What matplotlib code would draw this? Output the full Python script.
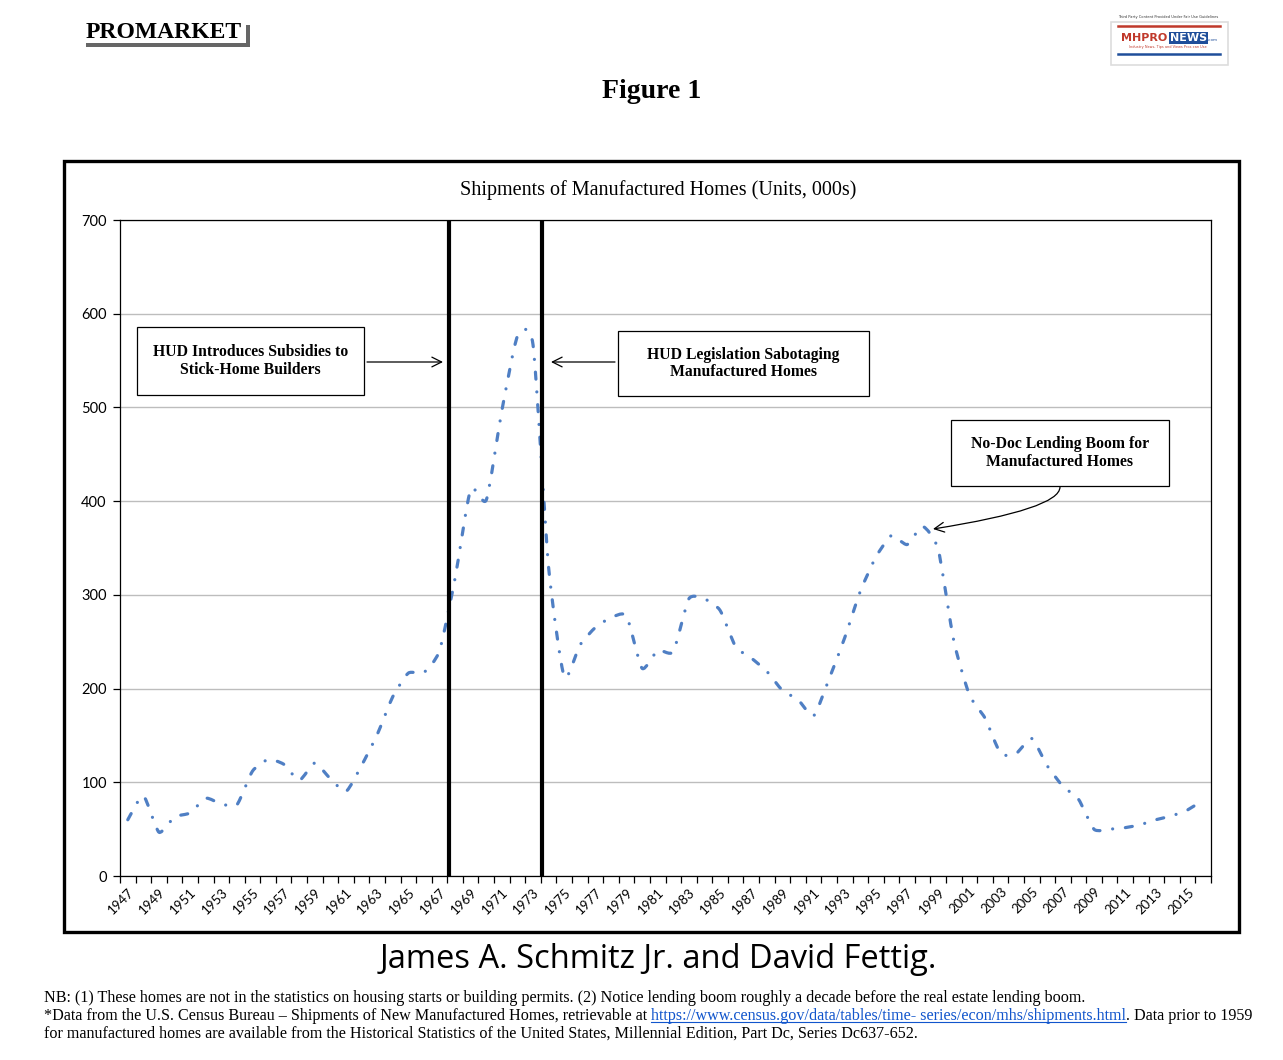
import matplotlib
matplotlib.use("Agg")
import matplotlib.pyplot as plt
import numpy as np
from matplotlib.patches import Rectangle, PathPatch
from matplotlib.path import Path
from matplotlib.lines import Line2D

# ---------------- data ----------------
years = list(range(1947, 2017))
shipments = [60.0, 85.5, 46.7, 63.1, 67.3, 83.0, 76.9, 76.0, 111.9, 124.3,
             119.3, 102.1, 120.5, 103.7, 90.2, 118.0, 150.8, 191.3, 216.5, 217.3,
             240.4, 317.9, 412.7, 401.2, 496.6, 575.9, 566.9, 329.3, 212.7, 246.1,
             265.2, 275.7, 277.4, 221.6, 240.9, 239.5, 295.8, 295.7, 283.5, 244.7,
             232.6, 218.4, 198.1, 188.2, 170.9, 210.5, 254.3, 303.9, 340.3, 363.3,
             353.7, 373.1, 348.1, 250.6, 193.2, 168.5, 130.8, 130.8, 146.7, 117.4,
             95.7, 81.9, 49.8, 50.0, 51.6, 54.9, 60.2, 64.3, 70.5, 81.1]
yticks = [0, 100, 200, 300, 400, 500, 600, 700]
xtick_labels = [str(y) for y in range(1947, 2016, 2)]
event_years = [1968, 1974]   # vertical lines drawn at the start of these categories

title = "Shipments of Manufactured Homes (Units, 000s)"
ann1 = "HUD Introduces Subsidies to\nStick-Home Builders"
ann2 = "HUD Legislation Sabotaging\nManufactured Homes"
ann3 = "No-Doc Lending Boom for\nManufactured Homes"

W, H = 1283, 1060
SERIF = ["Liberation Serif", "DejaVu Serif"]
SANS = ["Lato", "DejaVu Sans"]
fig = plt.figure(figsize=(W / 100, H / 100), dpi=100)

def fx(x): return x / W
def fy(y): return 1 - y / H

# outer frame
fig.patches.append(Rectangle((fx(64), fy(932)), fx(1239) - fx(64), fy(161) - fy(932),
                             transform=fig.transFigure, fill=False, lw=2.4,
                             edgecolor="black", zorder=0))

ax = fig.add_axes([fx(120), fy(876), fx(1211) - fx(120), fy(220) - fy(876)])
n = len(years)
xs = np.arange(n, dtype=float)
ys = np.array(shipments, dtype=float)

# smoothed path (Excel-style smooth line)
k = 0.1
verts = [(xs[0], ys[0])]
codes = [Path.MOVETO]
for i in range(n - 1):
    p0 = np.array([xs[max(i - 1, 0)], ys[max(i - 1, 0)]])
    p1 = np.array([xs[i], ys[i]])
    p2 = np.array([xs[i + 1], ys[i + 1]])
    p3 = np.array([xs[min(i + 2, n - 1)], ys[min(i + 2, n - 1)]])
    c1 = p1 + (p2 - p0) * k
    c2 = p2 - (p3 - p1) * k
    verts += [tuple(c1), tuple(c2), tuple(p2)]
    codes += [Path.CURVE4] * 3
patch = PathPatch(Path(verts, codes), fill=False, edgecolor="#4F7FC4", lw=2.3,
                  linestyle=(0, (2.2, 4.0, 0.01, 4.0)), capstyle="round",
                  joinstyle="round", zorder=3)
ax.add_patch(patch)

ax.set_xlim(-0.5, n - 0.5)
ax.set_ylim(0, 700)
ax.set_yticks(yticks)
ax.set_yticklabels([str(v) for v in yticks], fontfamily=SANS, fontsize=10.5)
ax.grid(axis="y", color="#BDBDBD", lw=1.0, zorder=0)
ax.set_axisbelow(True)
ax.set_xticks(np.arange(-0.5, n, 1.0))
ax.set_xticklabels([])
ax.set_xticks(np.arange(0, n, 2), minor=True)
ax.set_xticklabels(xtick_labels, minor=True, rotation=45, ha="right",
                   rotation_mode="anchor", fontfamily=SANS, fontsize=9.5)
ax.tick_params(axis="x", which="major", direction="out", length=5, width=0.9)
ax.tick_params(axis="x", which="minor", length=0, pad=7)
ax.tick_params(axis="y", direction="out", length=5, width=0.9, pad=4.5)
for s in ax.spines.values():
    s.set_linewidth(0.9)

for ev in event_years:
    ax.axvline(years.index(ev) - 0.42, color="black", lw=3.0, zorder=4)

# annotation boxes (pixel layout -> data coords)
def dx(px): return (px - 120) / ((1211 - 120) / n) - 0.5
def dy(py): return (876 - py) / 656 * 700

def box(x0, y0, x1, y1, txt):
    ax.add_patch(Rectangle((dx(x0), dy(y1)), dx(x1) - dx(x0), dy(y0) - dy(y1),
                           fill=True, facecolor="white", edgecolor="black", lw=0.9,
                           zorder=5, clip_on=False))
    ax.text((dx(x0) + dx(x1)) / 2, (dy(y0) + dy(y1)) / 2, txt, ha="center",
            va="center", fontfamily=SERIF, fontweight="bold", fontsize=11.3,
            linespacing=1.15, zorder=6)

box(137, 327, 364, 395, ann1)
box(618, 331, 869, 396, ann2)
box(951, 420, 1169, 486, ann3)

aprops = dict(arrowstyle="->,head_length=0.5,head_width=0.25", color="black", lw=0.9,
              mutation_scale=14, shrinkA=0, shrinkB=0)
ax.annotate("", xy=(dx(443), dy(362)), xytext=(dx(367), dy(362)), arrowprops=aprops, zorder=6)
ax.annotate("", xy=(dx(551), dy(362)), xytext=(dx(615), dy(362)), arrowprops=aprops, zorder=6)
ax.annotate("", xy=(dx(933), dy(529)), xytext=(dx(1060), dy(487)),
            arrowprops=dict(aprops, connectionstyle="angle3,angleA=-90,angleB=9"), zorder=6)

# chart title
fig.text(fx(658), fy(190), title, ha="center", va="center", fontfamily=SERIF, fontsize=14.5)

# header
fig.text(fx(652), fy(92), "Figure 1", ha="center", va="center", fontfamily=SERIF,
         fontweight="bold", fontsize=20)
fig.patches.append(Rectangle((fx(86), fy(47)), fx(250) - fx(86), fy(25) - fy(47),
                             transform=fig.transFigure, facecolor="#666666", lw=0))
fig.patches.append(Rectangle((fx(80), fy(43)), fx(246) - fx(80), fy(19) - fy(43),
                             transform=fig.transFigure, facecolor="white", lw=0))
fig.text(fx(164), fy(32), "PROMARKET", ha="center", va="center", fontfamily=SERIF,
         fontweight="bold", fontsize=17)

# MHProNews badge
fig.text(fx(1168), fy(17), "Third Party Content Provided Under Fair Use Guidelines",
         ha="center", va="center", fontfamily="DejaVu Sans", fontsize=2.6, color="#333333")
fig.patches.append(Rectangle((fx(1111), fy(65)), fx(1228) - fx(1111), fy(22) - fy(65),
                             transform=fig.transFigure, facecolor="white",
                             edgecolor="#DDDDDD", lw=1.2))
fig.lines.append(Line2D([fx(1118), fx(1220)], [fy(26), fy(26)], transform=fig.transFigure,
                        color="#C0392B", lw=1.8))
fig.text(fx(1121), fy(38), "MHPRO", ha="left", va="center", fontfamily="DejaVu Sans",
         fontweight="bold", fontsize=8, color="#C0392B")
fig.text(fx(1170), fy(38), "NEWS", ha="left", va="center", fontfamily="DejaVu Sans",
         fontweight="bold", fontsize=8, color="white",
         bbox=dict(boxstyle="square,pad=0.1", facecolor="#1F4E9A", edgecolor="none"))
fig.text(fx(1208), fy(40), ".com", ha="left", va="center", fontfamily="DejaVu Sans",
         fontsize=3, color="#1F4E9A")
fig.text(fx(1168), fy(47), "Industry News, Tips and Views Pros can Use", ha="center",
         va="center", fontfamily="DejaVu Sans", fontsize=2.5, color="#C0392B")
fig.lines.append(Line2D([fx(1118), fx(1220)], [fy(54), fy(54)], transform=fig.transFigure,
                        color="#1F4E9A", lw=1.8))

# author line
fig.text(fx(658), fy(960), "James A. Schmitz Jr. and David Fettig.", ha="center",
         va="center", fontfamily="Open Sans", fontsize=23.5)

# footnotes
fs = 11.65
fig.text(fx(44), fy(998), "NB: (1) These homes are not in the statistics on housing starts or "
         "building permits. (2) Notice lending boom roughly a decade before the real estate "
         "lending boom.", ha="left", va="center", fontfamily=SERIF, fontsize=fs)
t1 = fig.text(fx(44), fy(1016), "*Data from the U.S. Census Bureau \u2013 Shipments of New "
              "Manufactured Homes, retrievable at", ha="left", va="center",
              fontfamily=SERIF, fontsize=fs)
fig.text(fx(44), fy(1034), "for manufactured homes are available from the Historical "
         "Statistics of the United States, Millennial Edition, Part Dc, Series Dc637-652.",
         ha="left", va="center", fontfamily=SERIF, fontsize=fs)
fig.canvas.draw()
r = fig.canvas.get_renderer()
b1 = t1.get_window_extent(r)
x_link = b1.x1 + 4
t2 = fig.text(x_link / W, fy(1016), "https://www.census.gov/data/tables/time- series/econ/mhs/shipments.html",
              ha="left", va="center", fontfamily=SERIF, fontsize=fs, color="#1155CC")
fig.canvas.draw()
b2 = t2.get_window_extent(r)
fig.lines.append(Line2D([b2.x0 / W, b2.x1 / W], [(b2.y0 + 2.5) / H, (b2.y0 + 2.5) / H],
                        transform=fig.transFigure, color="#1155CC", lw=0.8))
fig.text(b2.x1 / W, fy(1016), ". Data prior to 1959", ha="left", va="center",
         fontfamily=SERIF, fontsize=fs)

fig.savefig("out.png", dpi=100)
